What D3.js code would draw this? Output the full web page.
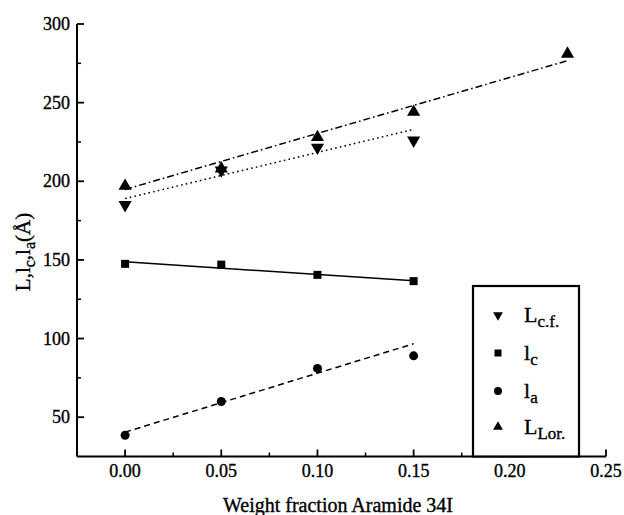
<!DOCTYPE html>
<html><head><meta charset="utf-8">
<script src="https://cdn.jsdelivr.net/npm/d3@7"></script>
<style>body{margin:0;background:#fff}svg{display:block}text{font-family:"Liberation Serif","Times New Roman",serif;fill:#000;stroke:#000;stroke-width:0.35px}</style>
</head><body><svg id="c" width="624" height="515"></svg>
<script>
// Data
const xValues = [0.00, 0.05, 0.10, 0.15];
const xLor = [0.00, 0.05, 0.10, 0.15, 0.23];
const Lcf = [185, 207, 221.5, 226];
const lc = [147.5, 147, 140.5, 136.5];
const la = [38.5, 60, 81, 89];
const LLor = [197, 208, 228, 244, 281];
// fitted line end values
const fitLcf = [[0, 189], [0.15, 233]];
const fitLc = [[0, 148.8], [0.15, 136.7]];
const fitLa = [[0, 40.5], [0.15, 96.7]];
const fitLLor = [[0, 194.8], [0.23, 276.7]];
const xTicks = [0.00, 0.05, 0.10, 0.15, 0.20, 0.25];
const xMinor = [0.025, 0.075, 0.125, 0.175, 0.225];
const yTicks = [50, 100, 150, 200, 250, 300];
const yMinor = [75, 125, 175, 225, 275];

const svg = d3.select("#c");
const x = d3.scaleLinear().domain([-0.025, 0.25]).range([77, 606]);
const y = d3.scaleLinear().domain([25, 300]).range([456.5, 24]);

// axes
const g = svg.append("g");
g.append("line").attr("x1", x(-0.025)).attr("x2", x(0.25)).attr("y1", y(25)).attr("y2", y(25)).attr("stroke", "#000").attr("stroke-width", 2);
g.append("line").attr("x1", x(-0.025)).attr("x2", x(-0.025)).attr("y1", y(25)).attr("y2", y(300)).attr("stroke", "#000").attr("stroke-width", 2);
const X0 = x(-0.025), Y0 = y(25);
g.selectAll(".xt").data(xTicks).join("line").attr("x1", d => x(d)).attr("x2", d => x(d)).attr("y1", Y0).attr("y2", Y0 - 7).attr("stroke", "#000").attr("stroke-width", 1.8);
g.selectAll(".xm").data(xMinor).join("line").attr("x1", d => x(d)).attr("x2", d => x(d)).attr("y1", Y0).attr("y2", Y0 - 4).attr("stroke", "#000").attr("stroke-width", 1.5);
g.selectAll(".yt").data(yTicks).join("line").attr("x1", X0).attr("x2", X0 + 7).attr("y1", d => y(d)).attr("y2", d => y(d)).attr("stroke", "#000").attr("stroke-width", 1.8);
g.selectAll(".ym").data(yMinor).join("line").attr("x1", X0).attr("x2", X0 + 4).attr("y1", d => y(d)).attr("y2", d => y(d)).attr("stroke", "#000").attr("stroke-width", 1.5);
g.selectAll(".xl").data(xTicks).join("text").attr("x", d => x(d)).attr("y", 477).attr("text-anchor", "middle").attr("font-size", 18).text(d => d3.format(".2f")(d));
g.selectAll(".yl").data(yTicks).join("text").attr("x", 70).attr("y", d => y(d) + 6).attr("text-anchor", "end").attr("font-size", 18).text(d => d);

// titles
svg.append("text").attr("x", 338).attr("y", 512).attr("text-anchor", "middle").attr("font-size", 20).text("Weight fraction Aramide 34I");
const yt = svg.append("text").attr("transform", "translate(30,252) rotate(-90)").attr("text-anchor", "middle").attr("font-size", 21);
yt.append("tspan").text("L,l");
yt.append("tspan").attr("font-size", 16).attr("dy", 5).text("c");
yt.append("tspan").attr("dy", -5).text(",l");
yt.append("tspan").attr("font-size", 16).attr("dy", 5).text("a");
yt.append("tspan").attr("dy", -5).text("(Å)");

// fit lines
const line = d3.line().x(d => x(d[0])).y(d => y(d[1]));
const fits = [
  {d: fitLcf, dash: "1.6,3.2"},
  {d: fitLc, dash: null},
  {d: fitLa, dash: "6,4"},
  {d: fitLLor, dash: "7,3,1.6,3"}
];
fits.forEach(f => {
  svg.append("path").attr("d", line(f.d)).attr("fill", "none").attr("stroke", "#000").attr("stroke-width", 1.5).attr("stroke-dasharray", f.dash);
});

// markers
function tri(sel, data, xs, down, size) {
  sel.selectAll(null).data(data).join("path")
    .attr("d", d3.symbol().type(d3.symbolTriangle).size(size)())
    .attr("transform", (d, i) => `translate(${x(xs[i])},${y(d)}) rotate(${down ? 180 : 0})`)
    .attr("fill", "#000");
}
tri(svg.append("g"), Lcf, xValues, true, 75);
tri(svg.append("g"), LLor, xLor, false, 75);
svg.append("g").selectAll("rect").data(lc).join("rect")
  .attr("x", (d, i) => x(xValues[i]) - 4).attr("y", d => y(d) - 4).attr("width", 8).attr("height", 8).attr("fill", "#000");
svg.append("g").selectAll("circle").data(la).join("circle")
  .attr("cx", (d, i) => x(xValues[i])).attr("cy", d => y(d)).attr("r", 4.5).attr("fill", "#000");

// legend
const leg = svg.append("g");
leg.append("rect").attr("x", 473).attr("y", 286).attr("width", 106).attr("height", Y0 - 286).attr("fill", "#fff").attr("stroke", "#000").attr("stroke-width", 2.2);
const legItems = [
  {main: "L", sub: "c.f.", sym: "down"},
  {main: "l", sub: "c", sym: "square"},
  {main: "l", sub: "a", sym: "circle"},
  {main: "L", sub: "Lor.", sym: "up"}
];
const rowY = [315, 353, 391, 427];
legItems.forEach((it, i) => {
  const cy = rowY[i];
  if (it.sym === "down" || it.sym === "up") {
    leg.append("path").attr("d", d3.symbol().type(d3.symbolTriangle).size(42)()).attr("transform", `translate(498,${cy}) rotate(${it.sym === "down" ? 180 : 0})`);
  } else if (it.sym === "square") {
    leg.append("rect").attr("x", 494.5).attr("y", cy - 3.5).attr("width", 7).attr("height", 7);
  } else {
    leg.append("circle").attr("cx", 498).attr("cy", cy).attr("r", 4);
  }
  const t = leg.append("text").attr("x", 524).attr("y", cy + 7).attr("font-size", 22);
  t.append("tspan").text(it.main);
  t.append("tspan").attr("font-size", 17).attr("dy", 5).text(it.sub);
});
</script></body></html>
